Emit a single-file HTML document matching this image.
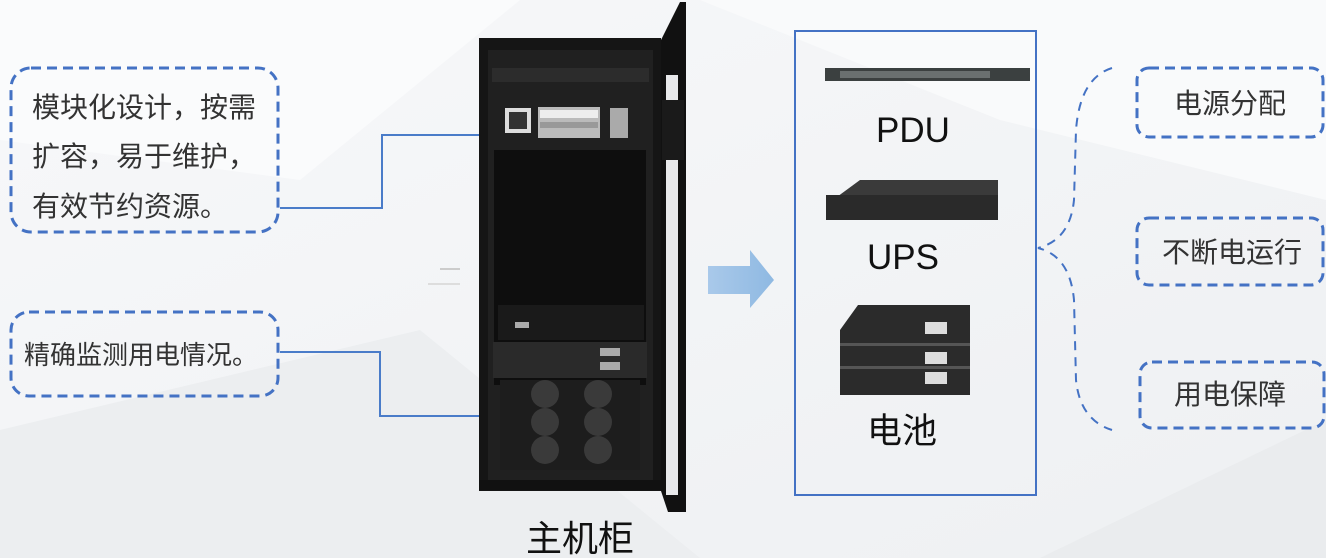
<!DOCTYPE html>
<html><head><meta charset="utf-8">
<style>
html,body{margin:0;padding:0;width:1326px;height:558px;overflow:hidden;background:#f3f4f6}
svg{display:block}
text{font-family:"Liberation Sans","Noto Sans CJK SC",sans-serif}
</style></head><body>
<svg width="1326" height="558" viewBox="0 0 1326 558" xmlns="http://www.w3.org/2000/svg">
<defs>
<linearGradient id="bg" x1="0" y1="0" x2="1" y2="1">
<stop offset="0" stop-color="#f7f8fa"/><stop offset="1" stop-color="#eef0f2"/>
</linearGradient>
<linearGradient id="arr" x1="0" y1="0" x2="1" y2="0">
<stop offset="0" stop-color="#a9c9ea"/><stop offset="1" stop-color="#8fb9e2"/>
</linearGradient>
</defs>
<rect width="1326" height="558" fill="url(#bg)"/>
<polygon points="0,0 520,0 300,180 0,140" fill="#fafbfc"/>
<polygon points="0,430 420,330 700,558 0,558" fill="#eceef0"/>
<polygon points="700,0 1326,0 1326,200 1000,120" fill="#f9fafb"/>
<polygon points="1040,558 1326,420 1326,558" fill="#eaecee"/>

<!-- left callouts -->
<rect x="11" y="68" width="267" height="164" rx="20" fill="none" stroke="#4472c4" stroke-width="3" stroke-dasharray="10,6"/>
<text x="32" y="117" font-size="28" fill="#333">模块化设计，按需</text>
<text x="32" y="166" font-size="28" fill="#333">扩容，易于维护，</text>
<text x="32" y="216" font-size="28" fill="#333">有效节约资源。</text>
<polyline points="280,208 382,208 382,135 483,135" fill="none" stroke="#4a7cc9" stroke-width="2"/>

<rect x="11" y="312" width="267" height="84" rx="18" fill="none" stroke="#4472c4" stroke-width="3" stroke-dasharray="10,6"/>
<text x="24" y="364" font-size="26" fill="#333">精确监测用电情况。</text>
<polyline points="280,352 380,352 380,416 480,416" fill="none" stroke="#4a7cc9" stroke-width="2"/>

<rect x="440" y="268" width="20" height="2" fill="#ccc"/>
<rect x="428" y="283" width="32" height="2" fill="#ddd"/>

<!-- cabinet -->
<rect x="479" y="38" width="182" height="453" fill="#151515"/>
<rect x="488" y="50" width="165" height="432" fill="#202020"/>
<rect x="492" y="68" width="157" height="14" fill="#2c2c2c"/>
<rect x="505" y="108" width="26" height="25" fill="#ddd"/><rect x="509" y="112" width="18" height="17" fill="#333"/>
<rect x="538" y="107" width="62" height="31" fill="#bbb"/>
<rect x="540" y="110" width="58" height="8" fill="#eee"/>
<rect x="540" y="122" width="58" height="6" fill="#999"/>
<rect x="610" y="108" width="18" height="30" fill="#aaa"/>
<rect x="494" y="150" width="152" height="235" fill="#0e0e0e"/>
<rect x="498" y="305" width="146" height="35" fill="#1a1a1a"/>
<rect x="515" y="322" width="14" height="6" fill="#aaa"/>
<rect x="493" y="342" width="154" height="36" fill="#2a2a2a"/>
<rect x="600" y="348" width="20" height="8" fill="#aaa"/><rect x="600" y="362" width="20" height="8" fill="#aaa"/>
<rect x="500" y="380" width="140" height="90" fill="#1d1d1d"/>
<g fill="#3a3a3a">
<circle cx="545" cy="394" r="14"/><circle cx="598" cy="394" r="14"/>
<circle cx="545" cy="422" r="14"/><circle cx="598" cy="422" r="14"/>
<circle cx="545" cy="450" r="14"/><circle cx="598" cy="450" r="14"/>
</g>
<rect x="479" y="480" width="182" height="10" fill="#111"/>
<polygon points="661,40 680,2 686,2 686,512 668,512 661,491" fill="#111"/>
<rect x="666" y="75" width="12" height="420" fill="#e8e9eb"/>
<rect x="662" y="100" width="22" height="60" fill="#1a1a1a"/>
<text x="580" y="551" font-size="36" fill="#111" text-anchor="middle">主机柜</text>

<!-- arrow -->
<polygon points="708,266 750,266 750,250 774,280 750,308 750,294 708,294" fill="url(#arr)"/>

<!-- blue box -->
<rect x="795" y="31" width="241" height="464" fill="none" stroke="#4472c4" stroke-width="2"/>
<rect x="825" y="68" width="205" height="13" fill="#3b4040"/>
<g fill="#6a7070"><rect x="840" y="71" width="150" height="7"/></g>
<text x="913" y="142" font-size="35" fill="#111" text-anchor="middle">PDU</text>
<polygon points="826,205 860,180 998,180 998,220 826,220" fill="#3a3a3a"/>
<rect x="826" y="195" width="172" height="25" fill="#2a2a2a"/>
<text x="903" y="269" font-size="35" fill="#111" text-anchor="middle">UPS</text>
<polygon points="840,330 858,305 970,305 970,395 840,395" fill="#2b2b2b"/>
<rect x="925" y="322" width="22" height="12" fill="#ddd"/>
<rect x="925" y="352" width="22" height="12" fill="#ddd"/>
<rect x="925" y="372" width="22" height="12" fill="#ddd"/>
<rect x="840" y="343" width="130" height="3" fill="#555"/>
<rect x="840" y="366" width="130" height="3" fill="#555"/>
<text x="902" y="443" font-size="35" fill="#111" text-anchor="middle">电池</text>

<!-- brace -->
<path d="M1112,68 Q1080,78 1076,130 L1074,200 Q1070,240 1038,248 Q1070,256 1074,300 L1076,380 Q1080,420 1112,430" fill="none" stroke="#4472c4" stroke-width="2" stroke-dasharray="9,7"/>

<!-- right boxes -->
<rect x="1137" y="68" width="186" height="69" rx="12" fill="none" stroke="#4472c4" stroke-width="3" stroke-dasharray="10,6"/>
<text x="1230" y="113" font-size="28" fill="#333" text-anchor="middle">电源分配</text>
<rect x="1137" y="218" width="186" height="67" rx="12" fill="none" stroke="#4472c4" stroke-width="3" stroke-dasharray="10,6"/>
<text x="1232" y="262" font-size="28" fill="#333" text-anchor="middle">不断电运行</text>
<rect x="1140" y="362" width="184" height="66" rx="12" fill="none" stroke="#4472c4" stroke-width="3" stroke-dasharray="10,6"/>
<text x="1230" y="404" font-size="28" fill="#333" text-anchor="middle">用电保障</text>
</svg>
</body></html>
